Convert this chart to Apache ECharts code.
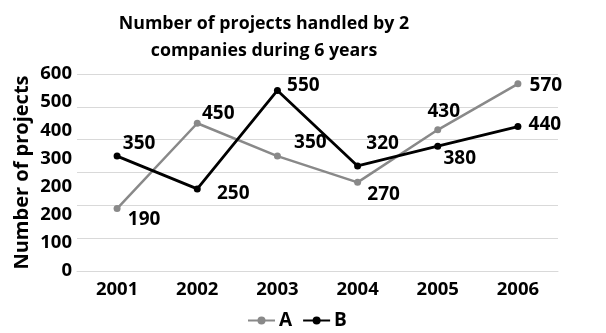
<!DOCTYPE html>
<html>
<head>
<meta charset="utf-8">
<script src="https://cdn.jsdelivr.net/npm/echarts@6/dist/echarts.min.js"></script>
<style>
html,body{margin:0;padding:0;background:#fff;}
#chart{width:606px;height:333px;}
</style>
</head>
<body>
<div id="chart"></div>
<script>
// ---- data ----
var years = ['2001', '2002', '2003', '2004', '2005', '2006'];
var seriesA = [190, 450, 350, 270, 430, 570];
var seriesB = [350, 250, 550, 320, 380, 440];
var yTickLabels = ['0', '100', '200', '200', '300', '400', '500', '600'];

// ---- label placement (style only) ----
var offA = [[27, 11], [21, -10], [33, -13], [26, 12], [6, -18], [28, 2]];
var offB = [[22, -12], [36, 5], [26, -5], [25, -22], [22, 12], [27, -2]];

var FONT = '"Open Sans", "DejaVu Sans", sans-serif';

function withLabels(values, offs) {
  return values.map(function (v, i) {
    return { value: v, label: { offset: offs[i] } };
  });
}

var chart = echarts.init(document.getElementById('chart'));
chart.setOption({
  animation: false,
  backgroundColor: '#fff',
  title: {
    text: 'Number of projects handled by 2\ncompanies during 6 years',
    left: 259,
    textAlign: 'center',
    top: 5,
    textStyle: { fontFamily: FONT, fontSize: 17.8, fontWeight: 'bold', color: '#000', lineHeight: 27 }
  },
  legend: {
    data: ['A', 'B'],
    left: 242,
    top: 306,
    itemWidth: 27,
    itemHeight: 10,
    itemGap: 10,
    textStyle: { fontFamily: FONT, fontSize: 19, fontWeight: 'bold', color: '#000', padding: [0, 0, 0, -1] }
  },
  grid: { left: 77, right: 48, top: 74, bottom: 62, outerBoundsMode: 'none' },
  xAxis: {
    type: 'category',
    data: years,
    boundaryGap: true,
    axisLine: { lineStyle: { color: '#d9d9d9', width: 1 } },
    axisTick: { show: false },
    axisLabel: { fontFamily: FONT, fontSize: 18.5, fontWeight: 'bold', color: '#000', margin: 9 }
  },
  yAxis: [{
    type: 'value',
    min: 0, max: 600, interval: 100,
    position: 'left',
    name: 'Number of projects',
    nameLocation: 'middle',
    nameGap: 45,
    nameTextStyle: { fontFamily: FONT, fontSize: 20, fontWeight: 'bold', color: '#000' },
    axisLine: { show: false },
    axisTick: { show: false },
    axisLabel: { show: false },
    splitLine: { lineStyle: { color: '#d9d9d9', width: 1 } }
  }, {
    type: 'value',
    min: 0, max: 7, interval: 1,
    position: 'left',
    axisLine: { show: false },
    axisTick: { show: false },
    splitLine: { show: false },
    axisLabel: {
      fontFamily: FONT, fontSize: 18.5, fontWeight: 'bold', color: '#000', margin: 5,
      formatter: function (v) { return yTickLabels[Math.round(v)]; }
    }
  }],
  series: [{
    name: 'A',
    type: 'line',
    yAxisIndex: 0,
    data: withLabels(seriesA, offA),
    symbol: 'circle',
    symbolSize: 7,
    lineStyle: { color: '#898989', width: 2.5 },
    itemStyle: { color: '#898989' },
    label: { show: true, position: 'inside', fontFamily: FONT, fontSize: 19, fontWeight: 'bold', color: '#000' },
    z: 2
  }, {
    name: 'B',
    type: 'line',
    yAxisIndex: 0,
    data: withLabels(seriesB, offB),
    symbol: 'circle',
    symbolSize: 7,
    lineStyle: { color: '#000', width: 2.8 },
    itemStyle: { color: '#000' },
    label: { show: true, position: 'inside', fontFamily: FONT, fontSize: 19, fontWeight: 'bold', color: '#000' },
    z: 3
  }]
});
</script>
</body>
</html>
